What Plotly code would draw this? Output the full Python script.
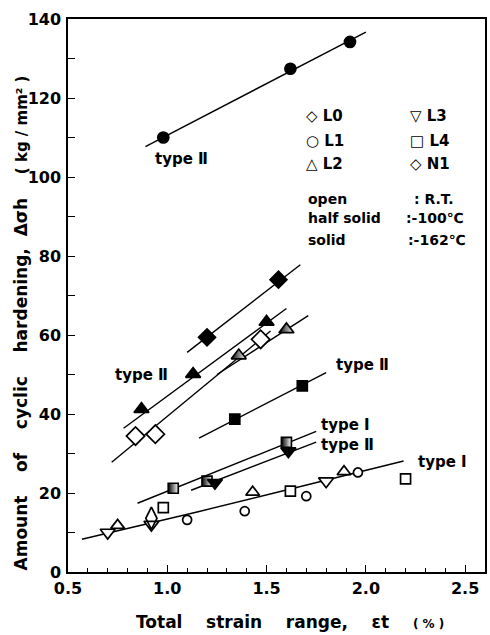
import plotly.graph_objects as go

# ---------------- data ----------------
# -162C solid circles (L1), type II
L1_solid_x = [0.98, 1.62, 1.92]
L1_solid_y = [110.0, 127.4, 134.2]
L1_solid_fit_x = [0.89, 2.00]
L1_solid_fit_y = [107.7, 136.7]

# -162C solid diamonds (N1)
N1_solid_x = [1.20, 1.56]
N1_solid_y = [59.4, 74.0]
N1_solid_fit_x = [1.10, 1.67]
N1_solid_fit_y = [55.6, 77.8]

# -162C solid triangles (L2), type II
L2_solid_x = [0.87, 1.13, 1.50]
L2_solid_y = [41.2, 50.1, 63.3]
L2_solid_fit_x = [0.78, 1.60]
L2_solid_fit_y = [36.4, 66.7]

# R.T. open diamonds (L0)
L0_open_x = [0.84, 0.94, 1.47]
L0_open_y = [34.4, 34.9, 58.9]
L0_open_fit_x = [0.72, 1.52]
L0_open_fit_y = [27.8, 61.0]

# -100C half solid triangles (L2)
L2_half_x = [1.36, 1.60]
L2_half_y = [54.8, 61.4]
L2_half_fit_x = [1.25, 1.71]
L2_half_fit_y = [50.0, 64.9]

# -162C solid squares (L4), type II
L4_solid_x = [1.34, 1.68]
L4_solid_y = [38.7, 47.1]
L4_solid_fit_x = [1.16, 1.80]
L4_solid_fit_y = [33.9, 50.5]

# -100C half solid squares (L4), type I
L4_half_x = [1.03, 1.20, 1.60]
L4_half_y = [21.2, 23.0, 32.8]
L4_half_fit_x = [0.85, 1.75]
L4_half_fit_y = [17.4, 35.6]

# -162C solid down triangles (L3), type II
L3_solid_x = [1.24, 1.61]
L3_solid_y = [22.6, 30.6]
L3_solid_fit_x = [1.12, 1.75]
L3_solid_fit_y = [20.7, 32.9]

# R.T. open markers, type I
L3_open_x = [0.70, 0.92, 1.80]
L3_open_y = [10.0, 12.0, 23.0]
L2_open_x = [0.75, 1.43, 1.89]
L2_open_y = [11.8, 20.2, 25.4]
L0_open_low_x = [0.92]
L0_open_low_y = [13.6]
L4_open_x = [0.98, 1.62, 2.20]
L4_open_y = [16.3, 20.5, 23.6]
L1_open_x = [1.10, 1.39, 1.70, 1.96]
L1_open_y = [13.2, 15.4, 19.2, 25.2]
RT_fit_x = [0.57, 1.15, 1.62, 2.19]
RT_fit_y = [8.3, 15.2, 21.0, 28.1]

x_tick_vals = [0.5, 1.0, 1.5, 2.0, 2.5]
x_tick_text = ["0.5", "1.0", "1.5", "2.0", "2.5"]
y_tick_vals = [0, 20, 40, 60, 80, 100, 120, 140]
y_tick_text = ["0", "20", "40", "60", "80", "100", "120", "140"]

FONT = "DejaVu Sans"
fig = go.Figure()


def fit(x, y):
    fig.add_trace(go.Scatter(x=x, y=y, mode="lines",
                             line=dict(color="black", width=1.4),
                             showlegend=False, hoverinfo="skip"))


def pts(x, y, symbol, size, fill="black", half=False):
    marker = dict(symbol=symbol, size=size, color=fill,
                  line=dict(color="black", width=1.7))
    if half:
        marker["gradient"] = dict(type="horizontal", color="white")
    fig.add_trace(go.Scatter(x=x, y=y, mode="markers", marker=marker,
                             showlegend=False, hoverinfo="skip"))


for fx, fy in [(L1_solid_fit_x, L1_solid_fit_y), (N1_solid_fit_x, N1_solid_fit_y),
               (L2_solid_fit_x, L2_solid_fit_y), (L0_open_fit_x, L0_open_fit_y),
               (L2_half_fit_x, L2_half_fit_y), (L4_solid_fit_x, L4_solid_fit_y),
               (L4_half_fit_x, L4_half_fit_y), (L3_solid_fit_x, L3_solid_fit_y),
               (RT_fit_x, RT_fit_y)]:
    fit(fx, fy)

pts(L1_solid_x, L1_solid_y, "circle", 11)
pts(N1_solid_x, N1_solid_y, "diamond", 13)
pts(L2_solid_x, L2_solid_y, "triangle-up", 13)
pts(L0_open_x, L0_open_y, "diamond", 14, fill="white")
pts(L2_half_x, L2_half_y, "triangle-up", 13, half=True)
pts(L4_solid_x, L4_solid_y, "square", 10)
pts(L4_half_x, L4_half_y, "square", 10, half=True)
pts(L3_solid_x, L3_solid_y, "triangle-down", 13)
pts(L3_open_x, L3_open_y, "triangle-down", 13, fill="white")
pts(L0_open_low_x, L0_open_low_y, "diamond-tall", 16, fill="rgba(0,0,0,0)")
pts(L2_open_x, L2_open_y, "triangle-up", 12, fill="white")
pts(L4_open_x, L4_open_y, "square", 10, fill="white")
pts(L1_open_x, L1_open_y, "circle", 9, fill="white")

ann = []


def txt(x, y, s, size=15, anchor="left", xref="x", yref="y", angle=0):
    ann.append(dict(x=x, y=y, xref=xref, yref=yref, text=s, showarrow=False,
                    xanchor=anchor, yanchor="middle", textangle=angle,
                    font=dict(family=FONT, size=size, color="black", weight="bold")))


# curve labels
txt(1.07, 104.6, "type Ⅱ", anchor="center")
txt(0.87, 50.0, "type Ⅱ", anchor="center")
txt(1.84, 52.3, "type Ⅱ")
txt(1.765, 37.1, "type Ⅰ")
txt(1.765, 32.1, "type Ⅱ")
txt(2.25, 27.8, "type Ⅰ")

# key
txt(1.69, 115.4, "◇ L0")
txt(1.69, 109.2, "○ L1")
txt(1.69, 103.4, "△ L2")
txt(2.21, 115.4, "▽ L3")
txt(2.21, 109.2, "□ L4")
txt(2.21, 103.4, "◇ N1")
txt(1.70, 94.5, "open", size=14)
txt(2.23, 94.5, ": R.T.", size=14)
txt(1.70, 89.5, "half solid", size=14)
txt(2.19, 89.5, ":-100℃", size=14)
txt(1.70, 84.0, "solid", size=14)
txt(2.20, 84.0, ":-162℃", size=14)

# axis titles
txt(0.532, -0.090,
    "Total    strain    range,    εt    <span style='font-size:12px'>( % )</span>",
    size=17, anchor="center", xref="paper", yref="paper")
txt(-0.112, 0.45,
    "Amount    of    cyclic    hardening,  Δσh    <span style='font-size:15px'>( kg / mm² )</span>",
    size=17, anchor="center", xref="paper", yref="paper", angle=-90)

fig.update_layout(
    width=490, height=635,
    margin=dict(l=68, r=3, t=19, b=63),
    paper_bgcolor="white", plot_bgcolor="white",
    showlegend=False,
    annotations=ann,
    xaxis=dict(range=[0.5, 2.6], tickvals=x_tick_vals, ticktext=x_tick_text,
               ticks="inside", ticklen=7, tickwidth=1.3, tickcolor="black",
               minor=dict(dtick=0.1, tick0=0.5, ticks="inside", ticklen=4,
                          tickwidth=1, tickcolor="black", showgrid=False),
               showline=True, linecolor="black", linewidth=1.5, mirror=True,
               showgrid=False, zeroline=False, ticklabelstandoff=1,
               tickfont=dict(family=FONT, size=16, color="black", weight="bold")),
    yaxis=dict(range=[0, 140], tickvals=y_tick_vals, ticktext=y_tick_text,
               ticks="inside", ticklen=7, tickwidth=1.3, tickcolor="black",
               minor=dict(dtick=10, tick0=0, ticks="inside", ticklen=7,
                          tickwidth=1.2, tickcolor="black", showgrid=False),
               showline=True, linecolor="black", linewidth=1.5, mirror=True,
               showgrid=False, zeroline=False, ticklabelstandoff=2,
               tickfont=dict(family=FONT, size=16, color="black", weight="bold")),
)

fig.write_html("out.html")
